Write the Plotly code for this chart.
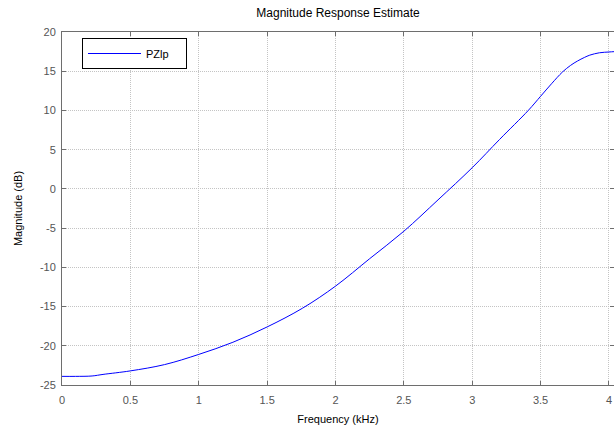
import plotly.graph_objects as go

freq_khz = [0, 0.1, 0.22, 0.3, 0.5, 0.75, 1.0, 1.25, 1.5, 1.76, 2.0, 2.25, 2.5,
            2.75, 3.0, 3.2, 3.41, 3.5, 3.58, 3.66, 3.72, 3.77, 3.82, 3.86, 3.93,
            4.0, 4.04]
mag_db = [-23.9, -23.9, -23.85, -23.65, -23.2, -22.4, -21.1, -19.55, -17.6, -15.2,
          -12.4, -8.9, -5.4, -1.4, 2.7, 6.3, 10.0, 11.8, 13.4, 14.9, 15.75, 16.3,
          16.75, 17.05, 17.35, 17.45, 17.5]
x_ticks = [0, 0.5, 1, 1.5, 2, 2.5, 3, 3.5, 4]
x_labels = ["0", "0.5", "1", "1.5", "2", "2.5", "3", "3.5", "4"]
y_ticks = [-25, -20, -15, -10, -5, 0, 5, 10, 15, 20]
y_labels = ["-25", "-20", "-15", "-10", "-5", "0", "5", "10", "15", "20"]

FONT = "Liberation Sans, Arial, sans-serif"

fig = go.Figure()
fig.add_trace(go.Scatter(
    x=freq_khz, y=mag_db, mode="lines", name="PZlp&nbsp;&nbsp;&nbsp;&nbsp;",
    line=dict(color="#0000ff", width=1, shape="spline", smoothing=1),
))

axis_common = dict(
    showline=True, linecolor="#6e6e6e", linewidth=1, mirror="ticks",
    ticks="inside", ticklen=4, tickcolor="#6e6e6e",
    showgrid=True, gridcolor="#c4c4c4", griddash="1px,1px", gridwidth=1,
    zeroline=False, automargin=False, ticklabeloverflow="allow",
    tickfont=dict(family=FONT, size=11, color="#555555"),
)

fig.update_layout(
    width=614, height=428,
    margin=dict(l=62, r=0, t=32, b=43),
    paper_bgcolor="white", plot_bgcolor="white",
    title=dict(text="Magnitude Response Estimate", x=(62 + 614) / 2 / 614,
               xanchor="center", xref="container", y=1 - 13 / 428, yref="container",
               yanchor="middle", automargin=False,
               font=dict(family=FONT, size=12, color="black")),
    xaxis=dict(range=[0, 4.037], tickvals=x_ticks, ticktext=x_labels,
               ticklabelstandoff=5,
               title=dict(text="Frequency (kHz)", standoff=10,
                          font=dict(family=FONT, size=11, color="black")),
               **axis_common),
    yaxis=dict(range=[-25, 20], tickvals=y_ticks, ticktext=y_labels,
               ticklabelstandoff=3,
               title=dict(text="Magnitude (dB)", standoff=15,
                          font=dict(family=FONT, size=11, color="black")),
               **axis_common),
    showlegend=True,
    legend=dict(x=(82 - 62) / 552, y=(385 - 38) / 353, xanchor="left", yanchor="top",
                bgcolor="white", bordercolor="black", borderwidth=1,
                itemwidth=53,
                font=dict(family=FONT, size=11, color="black")),
)

fig.write_html(
    "out.html",
    config={"displayModeBar": False},
    post_script="document.body.style.margin='0';document.body.style.overflow='hidden';",
)
